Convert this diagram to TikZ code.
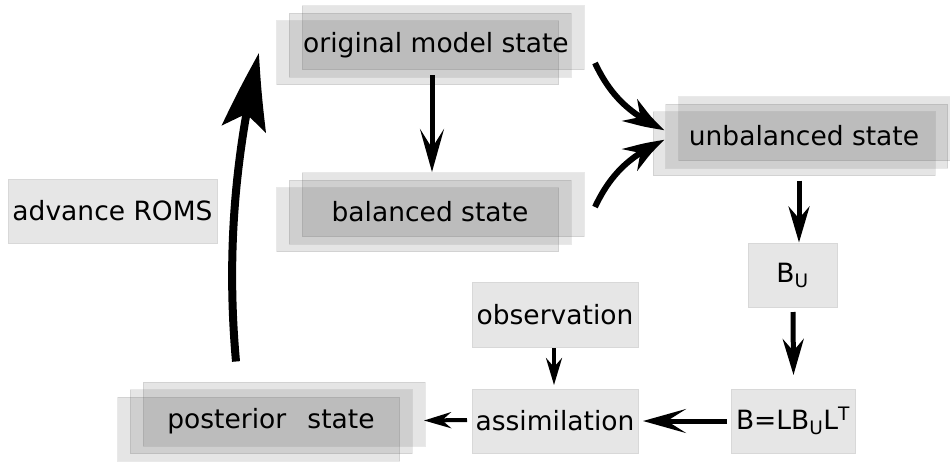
\documentclass[tikz,border=0pt]{standalone}
\usepackage{fontspec}
\setmainfont{DejaVu Sans}
\usetikzlibrary{arrows.meta,bending}
\definecolor{boxfill}{RGB}{230,230,230}
\definecolor{boxline}{RGB}{216,216,216}
\begin{document}
\begin{tikzpicture}[x=1pt,y=-1pt,
  font=\fontsize{26.5}{30}\selectfont,
  layer/.style={draw=black!70, fill=black!70, fill opacity=0.146, draw opacity=0.12, line width=1pt},
  stackbox/.style={rectangle, minimum width=282pt, minimum height=64pt, inner sep=0pt, layer, text opacity=1,
    preaction={layer, transform canvas={shift={(13pt,7.5pt)}}},
    preaction={layer, transform canvas={shift={(-12.5pt,-7.5pt)}}}},
  plainbox/.style={rectangle, fill=boxfill, draw=boxline, line width=1pt, inner sep=0pt, minimum height=64pt},
  arrbig/.style={line width=8pt, -{Stealth[length=77pt,width=44pt,inset=15pt,bend]}},
  arrcurve/.style={line width=6pt, -{Stealth[length=43pt,width=26pt,inset=14pt,bend]}},
  arrmain/.style={line width=5pt, -{Stealth[length=43pt,width=24pt,inset=19pt]}},
  arrmid/.style={line width=5pt, -{Stealth[length=36pt,width=21pt,inset=12pt]}},
  arrsmall/.style={line width=3.5pt, -{Stealth[length=27pt,width=16pt,inset=9pt]}}]
\useasboundingbox (0,0) rectangle (950,461);
\clip (0,0) rectangle (950,461);

% stacked state boxes
\node[stackbox] (orig)  at (430,45)    {\hspace*{12pt}original model state};
\node[stackbox] (bal)   at (430,212)   {balanced state};
\node[stackbox] (unbal) at (806.5,136) {\hspace*{-5pt}unbalanced state};
\node[stackbox] (post)  at (271,421.5) {posterior\hspace{0.8em}state};

% plain boxes
\node[plainbox, minimum width=209pt] (adv) at (112.5,211) {advance ROMS};
\node[plainbox, minimum width=89pt] (bu) at (792.5,275) {B\textsubscript{U}};
\node[plainbox, minimum width=124pt] (bl) at (793,421) {B=LB\textsubscript{U}L\textsuperscript{T}};
\node[plainbox, minimum width=166pt, minimum height=65pt] (obs) at (555,314.5) {observation};
\node[plainbox, minimum width=166pt] (assim) at (555,421) {assimilation};

% connectors
\draw[arrmain] ([xshift=2pt,yshift=2.5pt]orig.south) -- ([xshift=2pt,yshift=7.5pt]bal.north);
\draw[arrcurve] ([xshift=23.5pt,yshift=-18pt]orig.east) .. controls +(15,32) and +(-35,-15) .. ([yshift=6pt]unbal.west);
\draw[arrcurve] ([xshift=23.5pt,yshift=5pt]bal.east) .. controls +(15,-32) and +(-35,15) .. ([yshift=-4pt]unbal.west);
\draw[arrmid] ([xshift=-7.5pt,yshift=-12pt]unbal.south) -- ([xshift=6.5pt]bu.north);
\draw[arrmid] ([xshift=0.5pt,yshift=-4.5pt]bu.south) -- ([xshift=0.5pt,yshift=13.5pt]bl.north);
\draw[arrmain] ([xshift=-3.5pt]bl.west) -- ([xshift=4.5pt]assim.east);
\draw[arrsmall] ([xshift=-1pt,yshift=-0.5pt]obs.south) -- ([xshift=-1pt,yshift=3.5pt]assim.north);
\draw[arrsmall, line width=4pt] ([xshift=-4.5pt,yshift=1pt]assim.west) -- ([xshift=11.5pt,yshift=1pt]post.east);
\draw[arrbig] ([shift={(-35,-27.5)}]post.north) .. controls +(-10,-112) and +(-23,97) .. ([shift={(-29.5,8)}]orig.west);
\end{tikzpicture}
\end{document}
